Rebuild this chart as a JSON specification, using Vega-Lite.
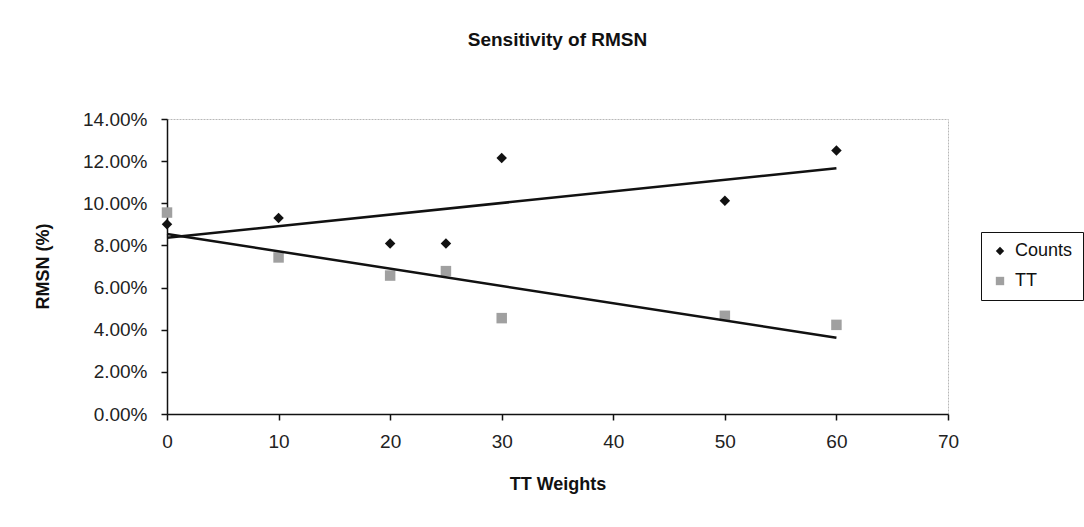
{
  "$schema": "https://vega.github.io/schema/vega-lite/v6.json",
  "autosize": "none",
  "width": 781,
  "height": 295,
  "padding": {"left": 167, "top": 119, "right": 136, "bottom": 113},
  "background": "white",
  "config": {
    "font": "Liberation Sans",
    "view": {"stroke": "#b8b8b8", "strokeWidth": 1, "strokeDash": [2, 1]}
  },
  "title": {
    "text": "Sensitivity of RMSN",
    "fontSize": 19,
    "fontWeight": "bold",
    "color": "#111111",
    "anchor": "middle",
    "offset": 60
  },
  "data": {
    "values": [
      {"series": "Counts", "w": 0, "rmsn": 0.0901},
      {"series": "Counts", "w": 10, "rmsn": 0.0930},
      {"series": "Counts", "w": 20, "rmsn": 0.0809},
      {"series": "Counts", "w": 25, "rmsn": 0.0809},
      {"series": "Counts", "w": 30, "rmsn": 0.1215},
      {"series": "Counts", "w": 50, "rmsn": 0.1012},
      {"series": "Counts", "w": 60, "rmsn": 0.1251},
      {"series": "TT", "w": 0, "rmsn": 0.0956},
      {"series": "TT", "w": 10, "rmsn": 0.0743},
      {"series": "TT", "w": 20, "rmsn": 0.0657},
      {"series": "TT", "w": 25, "rmsn": 0.0678},
      {"series": "TT", "w": 30, "rmsn": 0.0455},
      {"series": "TT", "w": 50, "rmsn": 0.0466},
      {"series": "TT", "w": 60, "rmsn": 0.0423}
    ]
  },
  "encoding": {
    "x": {
      "field": "w",
      "type": "quantitative",
      "scale": {"domain": [0, 70], "nice": false, "zero": false},
      "axis": {
        "title": "TT Weights",
        "values": [0, 10, 20, 30, 40, 50, 60, 70],
        "grid": false,
        "domainColor": "#111111",
        "domainWidth": 1.5,
        "tickColor": "#111111",
        "tickSize": 6,
        "tickWidth": 1.5,
        "labelFontSize": 19,
        "labelColor": "#222222",
        "labelPadding": 12,
        "labelFlush": false,
        "titleFontSize": 18,
        "titleFontWeight": "bold",
        "titleColor": "#111111",
        "titleY": 70,
        "titleBaseline": "middle"
      }
    },
    "y": {
      "field": "rmsn",
      "type": "quantitative",
      "scale": {"domain": [0, 0.14], "nice": false},
      "axis": {
        "title": "RMSN (%)",
        "format": ".2%",
        "values": [0, 0.02, 0.04, 0.06, 0.08, 0.1, 0.12, 0.14],
        "grid": false,
        "domainColor": "#111111",
        "domainWidth": 1.5,
        "tickColor": "#111111",
        "tickSize": 6,
        "tickWidth": 1.5,
        "labelFontSize": 19,
        "labelColor": "#222222",
        "labelPadding": 14,
        "labelFlush": false,
        "titleFontSize": 18,
        "titleFontWeight": "bold",
        "titleColor": "#111111",
        "titleX": -124,
        "titleY": 147,
        "titleAngle": -90,
        "titleAlign": "center",
        "titleBaseline": "middle"
      }
    }
  },
  "layer": [
    {
      "mark": {"type": "point", "filled": true, "opacity": 1},
      "encoding": {
        "color": {
          "field": "series",
          "type": "nominal",
          "scale": {"domain": ["Counts", "TT"], "range": ["#111111", "#a0a0a0"]},
          "legend": {
            "title": null,
            "orient": "none",
            "legendX": 814,
            "legendY": 113,
            "strokeColor": "#111111",
            "fillColor": "white",
            "padding": 10,
            "labelFontSize": 18,
            "labelColor": "#111111",
            "rowPadding": 12,
            "symbolSize": 70,
            "labelOffset": 6
          }
        },
        "shape": {
          "field": "series",
          "type": "nominal",
          "scale": {"domain": ["Counts", "TT"], "range": ["diamond", "square"]}
        },
        "size": {"value": 110}
      }
    },
    {
      "transform": [{"regression": "rmsn", "on": "w", "groupby": ["series"]}],
      "mark": {"type": "line", "color": "#111111", "strokeWidth": 2.5},
      "encoding": {"detail": {"field": "series", "type": "nominal"}}
    }
  ]
}
